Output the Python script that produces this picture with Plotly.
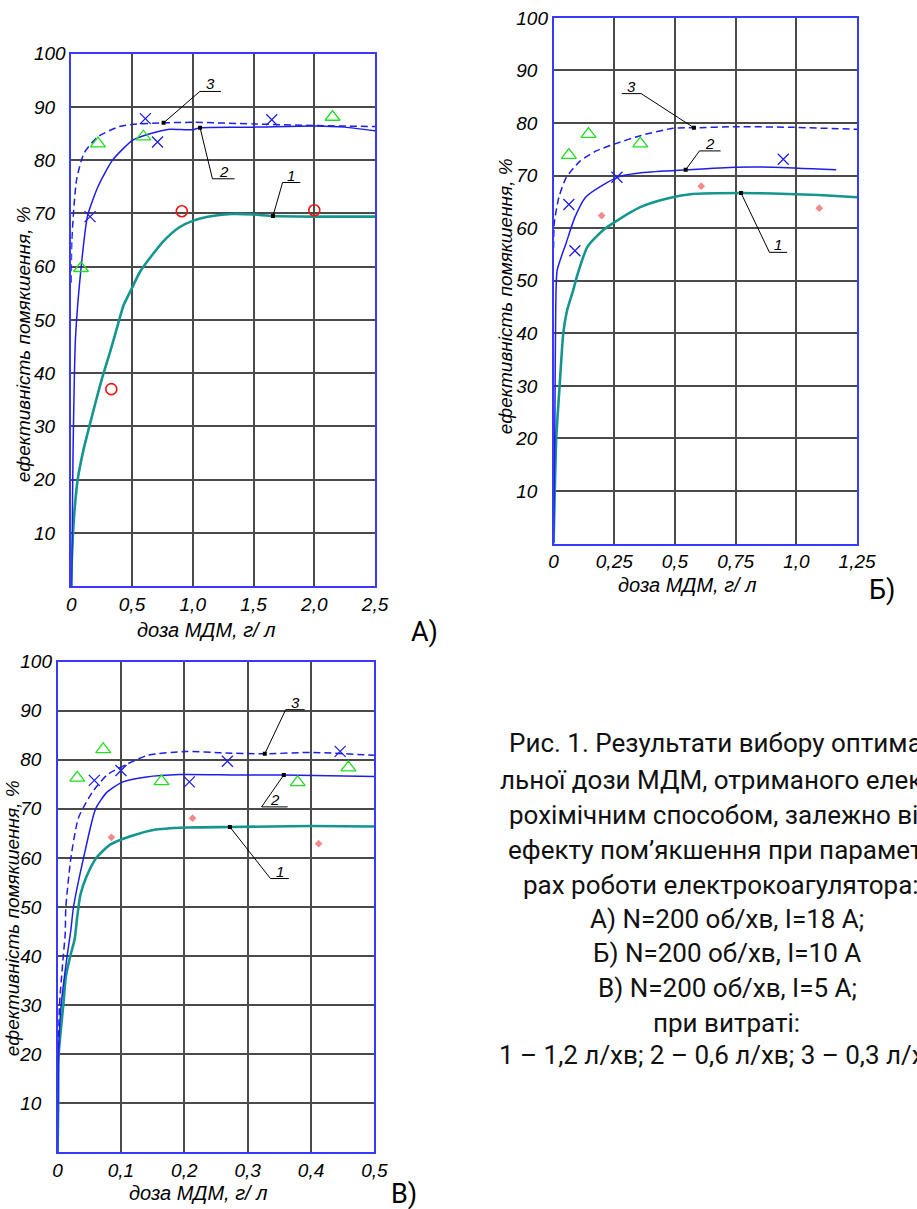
import plotly.graph_objects as go

W, H = 917, 1209

# ---------------- DATA ----------------
y_ticks = [10, 20, 30, 40, 50, 60, 70, 80, 90, 100]

# Panel A
a_x_ticks = [0, 0.5, 1.0, 1.5, 2.0, 2.5]
a_x_labels = ["0", "0,5", "1,0", "1,5", "2,0", "2,5"]
a1_x = [0, 0.005, 0.015, 0.03, 0.053, 0.1, 0.149, 0.2, 0.266, 0.32, 0.395, 0.43, 0.5, 0.565, 0.66, 0.76, 0.89, 1.0, 1.16, 1.32, 1.5, 1.66, 2.0, 2.5]
a1_y = [0, 5, 10, 15, 20, 25.5, 30, 34.5, 40, 44, 50, 52.7, 56, 59, 62, 64.8, 67.4, 68.6, 69.5, 69.9, 69.8, 69.5, 69.4, 69.4]
a2_x = [0.003, 0.015, 0.035, 0.082, 0.134, 0.22, 0.34, 0.51, 0.70, 0.81, 1.0, 1.06, 1.5, 2.0, 2.25, 2.5]
a2_y = [0, 25, 46.5, 60, 69.5, 75, 80, 83.8, 85.3, 85.8, 85.7, 86.1, 86.2, 86.4, 86.2, 85.5]
a3_x = [0.0, 0.005, 0.044, 0.105, 0.22, 0.395, 0.5, 0.76, 1.0, 1.5, 2.0, 2.5]
a3_y = [57, 65, 76.3, 81.3, 84.4, 86.3, 86.7, 87.0, 87.1, 86.8, 86.5, 86.3]
a_tri_x = [0.08, 0.22, 0.594, 2.15]
a_tri_y = [59.7, 83.1, 84.4, 88.1]
a_cross_x = [0.155, 0.61, 0.71, 1.65]
a_cross_y = [69.4, 87.8, 83.4, 87.6]
a_circ_x = [0.33, 0.91, 2.0]
a_circ_y = [37.0, 70.4, 70.6]

# Panel Б
b_x_ticks = [0, 0.25, 0.5, 0.75, 1.0, 1.25]
b_x_labels = ["0", "0,25", "0,5", "0,75", "1,0", "1,25"]
b1_x = [0, 0.004, 0.011, 0.025, 0.04, 0.056, 0.081, 0.096, 0.14, 0.206, 0.263, 0.357, 0.464, 0.571, 0.772, 0.902, 1.092, 1.25]
b1_y = [0, 8, 20, 30, 40, 44.4, 48.2, 50.8, 56.5, 59.7, 61.5, 64.0, 65.6, 66.5, 66.7, 66.6, 66.3, 65.9]
b2_x = [0, 0.005, 0.009, 0.015, 0.052, 0.088, 0.132, 0.206, 0.277, 0.37, 0.544, 0.75, 0.903, 1.164]
b2_y = [0, 20, 45, 52.0, 57.2, 62.1, 65.9, 68.3, 69.9, 70.6, 71.1, 71.6, 71.6, 71.1]
b3_x = [0.0, 0.003, 0.022, 0.052, 0.11, 0.176, 0.25, 0.357, 0.491, 0.578, 0.75, 0.98, 1.25]
b3_y = [56.2, 61, 65.9, 69.6, 72.8, 74.7, 76.0, 77.6, 79.0, 79.1, 79.3, 79.2, 78.8]
b_tri_x = [0.063, 0.144, 0.357]
b_tri_y = [73.9, 77.9, 76.1]
b_cross_x = [0.063, 0.088, 0.261, 0.946]
b_cross_y = [64.5, 55.7, 69.7, 73.1]
b_pink_x = [0.198, 0.608, 1.094]
b_pink_y = [62.4, 68.0, 63.8]

# Panel В
c_x_ticks = [0, 0.1, 0.2, 0.3, 0.4, 0.5]
c_x_labels = ["0", "0,1", "0,2", "0,3", "0,4", "0,5"]
c1_x = [0, 0.001, 0.0017, 0.009, 0.013, 0.02, 0.027, 0.031, 0.036, 0.046, 0.061, 0.083, 0.115, 0.151, 0.203, 0.272, 0.4, 0.5]
c1_y = [0, 10, 20, 30, 35.8, 40, 43.5, 48, 52.5, 56.3, 60, 62.7, 64.4, 65.7, 66.2, 66.3, 66.5, 66.4]
c2_x = [0, 0.0015, 0.0056, 0.015, 0.021, 0.025, 0.041, 0.06, 0.078, 0.103, 0.14, 0.193, 0.283, 0.357, 0.5]
c2_y = [0, 20, 30, 40, 45.4, 49.9, 60, 70, 73.4, 75.5, 76.5, 77.0, 76.9, 76.9, 76.6]
c3_x = [0, 0.003, 0.009, 0.012, 0.013, 0.021, 0.033, 0.055, 0.078, 0.111, 0.142, 0.203, 0.259, 0.327, 0.4, 0.5]
c3_y = [10, 30, 40, 44.5, 49.9, 60, 68.2, 73.4, 76.9, 79.2, 80.9, 81.7, 81.4, 81.2, 81.5, 80.9]
c_tri_x = [0.031, 0.072, 0.164, 0.379, 0.459]
c_tri_y = [76.3, 82.1, 75.6, 75.4, 78.4]
c_cross_x = [0.058, 0.1, 0.208, 0.268, 0.446]
c_cross_y = [75.8, 77.8, 75.5, 79.7, 81.7]
c_pink_x = [0.085, 0.213, 0.412]
c_pink_y = [64.2, 68.1, 62.9]

# Callouts: label, dot x, dot y, underline x0, x1, y, leader starts at ("l" or "r") end
a_callouts = [("3", 0.76, 87.0, 1.058, 1.232, 92.9, "l"),
              ("2", 1.06, 86.1, 1.162, 1.344, 76.5, "l"),
              ("1", 1.66, 69.5, 1.739, 1.885, 75.8, "l")]
b_callouts = [("3", 0.578, 79.1, 0.281, 0.361, 85.6, "r"),
              ("2", 0.544, 71.1, 0.601, 0.688, 74.7, "l"),
              ("1", 0.772, 66.7, 0.889, 0.962, 55.4, "l")]
c_callouts = [("3", 0.327, 81.2, 0.36, 0.39, 90.2, "l"),
              ("2", 0.357, 76.9, 0.322, 0.363, 70.4, "l"),
              ("1", 0.272, 66.3, 0.336, 0.365, 55.8, "l")]

x_title = "доза МДМ, г/ л"
y_title = "ефективність помякшення, %"
caption_lines = [
    "Рис. 1. Результати вибору оптима-",
    "льної дози МДМ, отриманого елект-",
    "рохімічним способом, залежно від",
    "ефекту пом’якшення при парамет-",
    "рах роботи електрокоагулятора:",
    "А) N=200 об/хв, I=18 А;",
    "Б) N=200 об/хв, I=10 А",
    "В) N=200 об/хв, I=5 А;",
    "при витраті:",
    "1 – 1,2 л/хв; 2 – 0,6 л/хв; 3 – 0,3 л/хв",
]

# ---------------- STYLE / LAYOUT ----------------
TEAL = "#14968f"
BLUE = "#1e1ee8"
GREEN = "#22dd22"
RED = "#ee1515"
PINK = "#f28a8a"
FRAME = "#3a3aff"
GRID = "#4a4a4a"
ITAL = "Liberation Sans, Arial, sans-serif"
CAPF = "Roboto, Noto Sans, sans-serif"


def px_x(p):
    return p / W


def px_y(p):
    return 1 - p / H


panels = [
    ("x", "y", (68, 380), (44, 581), [0, 2.5], a_x_ticks, a_x_labels),
    ("x2", "y2", (563.3, 875), (8, 538), [0, 1.25], b_x_ticks, b_x_labels),
    ("x3", "y3", (54, 379.3), (657, 1152), [0, 0.5], c_x_ticks, c_x_labels),
]

series = [
    (a1_x, a1_y, a2_x, a2_y, a3_x, a3_y, a_tri_x, a_tri_y, a_cross_x, a_cross_y, a_circ_x, a_circ_y, None, None, a_callouts),
    (b1_x, b1_y, b2_x, b2_y, b3_x, b3_y, b_tri_x, b_tri_y, b_cross_x, b_cross_y, None, None, b_pink_x, b_pink_y, b_callouts),
    (c1_x, c1_y, c2_x, c2_y, c3_x, c3_y, c_tri_x, c_tri_y, c_cross_x, c_cross_y, None, None, c_pink_x, c_pink_y, c_callouts),
]

fig = go.Figure()
shapes = []
annotations = []

y_labels = [str(v) if v == 100 else str(v) + "\u00a0\u00a0" for v in y_ticks]

for (xr, yr, dx, dy, xrange_, xt, xl), s in zip(panels, series):
    (l1x, l1y, l2x, l2y, l3x, l3y, tx, ty, crx, cry, cix, ciy, pkx, pky, callouts) = s
    common = dict(xaxis=xr, yaxis=yr, showlegend=False, hoverinfo="skip")
    fig.add_trace(go.Scatter(x=l1x, y=l1y, mode="lines",
                             line=dict(color=TEAL, width=2.6, shape="spline", smoothing=0.6), **common))
    fig.add_trace(go.Scatter(x=l2x, y=l2y, mode="lines",
                             line=dict(color=BLUE, width=1.5, shape="spline", smoothing=0.6), **common))
    fig.add_trace(go.Scatter(x=l3x, y=l3y, mode="lines",
                             line=dict(color=BLUE, width=1.5, dash="7px,4px", shape="spline", smoothing=0.6), **common))
    fig.add_trace(go.Scatter(x=tx, y=ty, mode="markers",
                             marker=dict(symbol="triangle-up-open", size=13, color=GREEN, line=dict(width=1.3, color=GREEN)), **common))
    fig.add_trace(go.Scatter(x=crx, y=cry, mode="markers",
                             marker=dict(symbol="x-thin-open", size=11, color=BLUE, line=dict(width=1.3, color=BLUE)), **common))
    if cix is not None:
        fig.add_trace(go.Scatter(x=cix, y=ciy, mode="markers",
                                 marker=dict(symbol="circle-open", size=11, color=RED, line=dict(width=1.6, color=RED)), **common))
    if pkx is not None:
        fig.add_trace(go.Scatter(x=pkx, y=pky, mode="markers",
                                 marker=dict(symbol="diamond", size=6, color=PINK), **common))
    fig.add_trace(go.Scatter(x=[c[1] for c in callouts], y=[c[2] for c in callouts], mode="markers",
                             marker=dict(symbol="square", size=4, color="black"), **common))
    for lab, dxv, dyv, u0, u1, uy, side in callouts:
        shapes.append(dict(type="line", xref=xr, yref=yr, x0=u0, x1=u1, y0=uy, y1=uy,
                           line=dict(color="black", width=1)))
        sx = u0 if side == "l" else u1
        shapes.append(dict(type="line", xref=xr, yref=yr, x0=sx, x1=dxv, y0=uy, y1=dyv,
                           line=dict(color="black", width=1)))
        annotations.append(dict(xref=xr, yref=yr, x=(u0 + u1) / 2, y=uy, text=lab, showarrow=False,
                                xanchor="center", yanchor="bottom", yshift=-3,
                                font=dict(family=ITAL, size=15, style="italic", color="black")))

axis_font = dict(family=ITAL, size=19, style="italic", color="black")
layout_axes = {}
for i, (xr, yr, dx, dy, xrange_, xt, xl) in enumerate(panels):
    suffix = "" if i == 0 else str(i + 1)
    layout_axes["xaxis" + suffix] = dict(
        domain=[px_x(dx[0]), px_x(dx[1])], anchor=yr, range=xrange_,
        tickvals=xt, ticktext=xl, showgrid=True, gridcolor=GRID, gridwidth=1.5,
        showline=True, linecolor=FRAME, linewidth=1.6, mirror=True,
        ticks="", tickfont=axis_font, zeroline=False, fixedrange=True)
    layout_axes["yaxis" + suffix] = dict(
        domain=[px_y(dy[1]), px_y(dy[0])], anchor=xr, range=[0, 100],
        tickvals=y_ticks, ticktext=y_labels, showgrid=True, gridcolor=GRID, gridwidth=1.5,
        showline=True, linecolor=FRAME, linewidth=1.6, mirror=True,
        ticks="", tickfont=axis_font, zeroline=False, fixedrange=True)

# axis titles
for (cx, cy) in [(206.7, 625), (700.8, 580), (198.3, 1193)]:
    annotations.append(dict(xref="paper", yref="paper", x=px_x(cx), y=px_y(cy), text=x_title,
                            showarrow=False, xanchor="center", yanchor="middle",
                            font=dict(family=ITAL, size=20, style="italic", color="black")))
for (cx, cy) in [(19, 337.5), (514, 289), (8, 916)]:
    annotations.append(dict(xref="paper", yref="paper", x=px_x(cx), y=px_y(cy), text=y_title,
                            showarrow=False, xanchor="center", yanchor="middle", textangle=-90,
                            font=dict(family=ITAL, size=19, style="italic", color="black")))
# panel letters
for lab, (cx, cy) in zip(["А)", "Б)", "В)"], [(431, 627), (901, 585), (410, 1194)]):
    annotations.append(dict(xref="paper", yref="paper", x=px_x(cx), y=px_y(cy), text=lab,
                            showarrow=False, xanchor="center", yanchor="middle",
                            font=dict(family=CAPF, size=27, color="black")))

# caption
cap_pos = [("left", 515, 739), ("left", 506, 776), ("left", 515, 812), ("left", 514, 847),
           ("left", 530, 882), ("center", 741, 917), ("center", 741.5, 951), ("center", 741.5, 986),
           ("center", 741, 1021), ("left", 505, 1054)]
for txt, (anc, cx, cy) in zip(caption_lines, cap_pos):
    annotations.append(dict(xref="paper", yref="paper", x=px_x(cx), y=px_y(cy), text=txt,
                            showarrow=False, xanchor=anc, yanchor="middle",
                            font=dict(family=CAPF, size=26, color="#111111")))

fig.update_layout(
    width=W, height=H, margin=dict(l=0, r=0, t=0, b=0),
    paper_bgcolor="white", plot_bgcolor="white",
    shapes=shapes, annotations=annotations, **layout_axes)

fig.write_html("out.html", config={"displayModeBar": False})
